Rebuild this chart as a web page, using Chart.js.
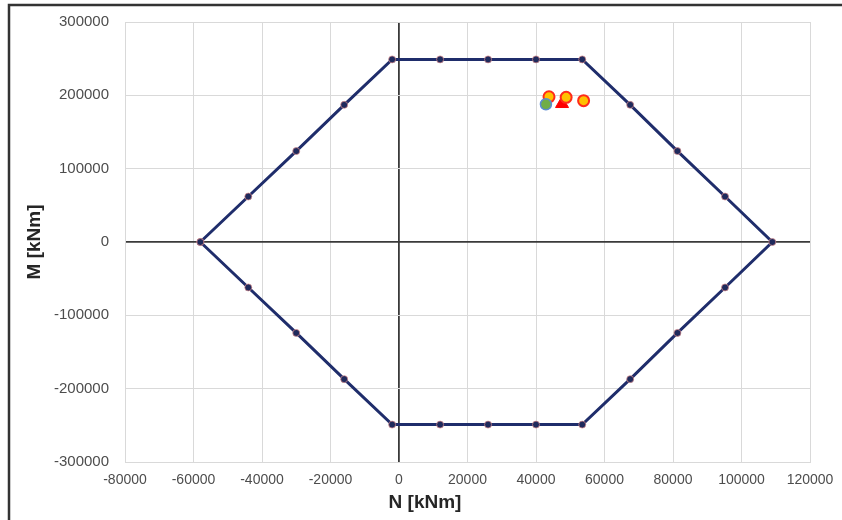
<!DOCTYPE html>
<html>
<head>
<meta charset="utf-8">
<script src="https://cdn.jsdelivr.net/npm/chart.js@4.4.1/dist/chart.umd.min.js"></script>
<style>
  html, body { margin: 0; padding: 0; background: #fff; }
  #wrap { width: 842px; height: 520px; }
</style>
</head>
<body>
<div id="wrap"><canvas id="myChart" width="842" height="520"></canvas></div>
<script>
// interaction diagram outline (N, M), closed back on the first point
var envN = [-58000, -44000, -30000, -16000, -2000, 12000, 26000, 40000, 53500,
            67500, 81300, 95200, 109000, 95200, 81300, 67500, 53500,
            40000, 26000, 12000, -2000, -16000, -30000, -44000, -58000];
var envM = [0, 62000, 124000, 187000, 249000, 249000, 249000, 249000, 249000,
            187000, 124000, 62000, 0, -62000, -124000, -187000, -249000,
            -249000, -249000, -249000, -249000, -187000, -124000, -62000, 0];

// load cases
var caseN = [43800, 48800, 53900];
var caseM = [198000, 197300, 192700];
var greenN = [42900];
var greenM = [187800];
var triN = [47600];
var triM = [188500];

var xTicks = { min: -80000, max: 120000, step: 20000 };
var yTicks = { min: -300000, max: 300000, step: 100000 };
var xTitle = 'N [kNm]';
var yTitle = 'M [kNm]';

function pts(xs, ys) {
    return xs.map(function(x, i) { return { x: x, y: ys[i] }; });
}

var gridColor = function(c) {
    return c.tick && c.tick.value === 0 ? '#3a3a3a' : '#d9d9d9';
};
var gridWidth = function(c) {
    return c.tick && c.tick.value === 0 ? 1.8 : 1;
};

// frame on the left/top and the two axis titles
var decor = {
    id: 'decor',
    afterDraw: function(chart) {
        var ctx = chart.ctx;
        ctx.save();
        ctx.strokeStyle = '#333';
        ctx.lineWidth = 2.5;
        ctx.beginPath();
        ctx.moveTo(9, 520);
        ctx.lineTo(9, 5);
        ctx.lineTo(842, 5);
        ctx.stroke();

        ctx.fillStyle = '#262626';
        ctx.font = 'bold 19px "Liberation Sans", Arial, sans-serif';
        ctx.textAlign = 'center';
        ctx.textBaseline = 'middle';
        ctx.fillText(xTitle, 425, 503);
        ctx.translate(35, 242);
        ctx.rotate(-Math.PI / 2);
        ctx.fillText(yTitle, 0, 0);
        ctx.restore();
    }
};

var dataObj = {
    type: 'scatter',
    data: {
        datasets: [{
            label: 'green',
            data: pts(greenN, greenM),
            pointStyle: 'circle',
            pointRadius: 5.5,
            backgroundColor: '#70AD47',
            borderColor: '#5B8BD0',
            borderWidth: 1.5,
            order: 1
        }, {
            label: 'cases',
            data: pts(caseN, caseM),
            pointStyle: 'circle',
            pointRadius: 5.5,
            backgroundColor: '#FFC000',
            borderColor: '#FF2A1A',
            borderWidth: 2,
            order: 2
        }, {
            label: 'tri',
            data: pts(triN, triM),
            pointStyle: 'triangle',
            pointRadius: 7.5,
            backgroundColor: '#FF0000',
            borderColor: '#FF0000',
            borderWidth: 1,
            order: 3
        }, {
            label: 'envelope',
            data: pts(envN, envM),
            showLine: true,
            borderColor: '#1F2D6B',
            borderWidth: 3,
            pointRadius: 3.5,
            pointBackgroundColor: '#1F2A5C',
            pointBorderColor: 'rgba(220,140,140,0.7)',
            pointBorderWidth: 1,
            order: 4
        }]
    },
    options: {
        responsive: false,
        animation: false,
        layout: { padding: { left: 0, top: 22, right: 32, bottom: 0 } },
        plugins: {
            legend: { display: false },
            tooltip: { enabled: false }
        },
        scales: {
            x: {
                type: 'linear',
                min: xTicks.min,
                max: xTicks.max,
                afterFit: function(s) { s.height = 58; s.paddingLeft = 0; s.paddingRight = 0; },
                ticks: {
                    stepSize: xTicks.step,
                    padding: 10,
                    color: '#4d4d4d',
                    font: { family: '"Liberation Sans", Arial, sans-serif', size: 14 },
                    maxRotation: 0,
                    callback: function(v) { return String(v); }
                },
                grid: { color: gridColor, lineWidth: gridWidth, drawTicks: false },
                border: { display: true, color: '#d9d9d9' }
            },
            y: {
                type: 'linear',
                min: yTicks.min,
                max: yTicks.max,
                afterFit: function(s) { s.width = 125; s.paddingTop = 0; s.paddingBottom = 0; },
                ticks: {
                    stepSize: yTicks.step,
                    padding: 16,
                    color: '#4d4d4d',
                    font: { family: '"Liberation Sans", Arial, sans-serif', size: 15 },
                    callback: function(v) { return String(v); }
                },
                grid: { color: gridColor, lineWidth: gridWidth, drawTicks: false },
                border: { display: true, color: '#d9d9d9' }
            }
        }
    },
    plugins: [decor]
};

var ctx = document.getElementById('myChart').getContext('2d');
window.myLine = new Chart(ctx, dataObj);
</script>
</body>
</html>
